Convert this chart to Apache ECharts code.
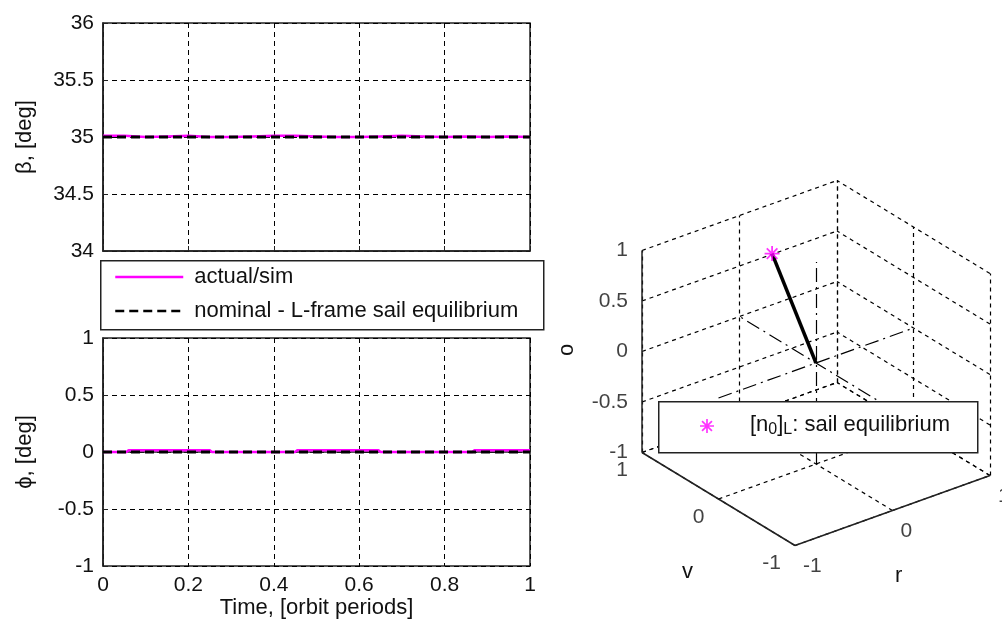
<!DOCTYPE html>
<html>
<head>
<meta charset="utf-8">
<script src="https://cdn.jsdelivr.net/npm/echarts@6/dist/echarts.min.js"></script>
<style>
  html, body { margin: 0; padding: 0; background: #fff; }
  #chart { width: 1002px; height: 626px; }
</style>
</head>
<body>
<div id="chart"></div>
<script>
// ---- Sail attitude over one orbit ----
// time, [orbit periods]
const timeBeta = [0, 0.05, 0.1, 0.15, 0.2, 0.25, 0.3, 0.35, 0.4, 0.45, 0.5, 0.55, 0.6, 0.65, 0.7, 0.75, 0.8, 0.85, 0.9, 0.95, 1];
// beta, [deg]
const betaActual = [35.01, 35.01, 35.0, 35.005, 35.01, 35.0, 35.0, 35.005, 35.01, 35.01, 35.005, 35.0, 35.0, 35.005, 35.01, 35.005, 35.0, 35.005, 35.0, 35.005, 35.0];
const betaNominal = [35, 35, 35, 35, 35, 35, 35, 35, 35, 35, 35, 35, 35, 35, 35, 35, 35, 35, 35, 35, 35];
// phi, [deg]
const timePhi = [0, 0.055, 0.06, 0.25, 0.255, 0.45, 0.455, 0.645, 0.65, 0.865, 0.87, 1];
const phiActual = [0, 0, 0.015, 0.015, 0, 0, 0.015, 0.015, 0, 0, 0.015, 0.015];
const phiNominal = [0, 0, 0, 0, 0, 0, 0, 0, 0, 0, 0, 0];

// ---- Sail normal in the L-frame (r, v, o) ----
const sailNormal = [0, 0.574, 0.819];
const rTicks = [-1, 0, 1];
const vTicks = [-1, 0, 1];
const oTicks = [-1, -0.5, 0, 0.5, 1];

const FONT = 'Liberation Sans, Arial, sans-serif';
const INK = '#111';
const MAGENTA = '#ff00ff';

// orthographic view of the 3-D box: screen offset per unit along r, v, o
const VIEW = { r: [0.975, 0.35], v: [-0.765, 0.465], o: [0, 1.01] };
function proj(r, v, o) {
  return [
    VIEW.r[0] * r + VIEW.v[0] * v + VIEW.o[0] * o,
    VIEW.r[1] * r + VIEW.v[1] * v + VIEW.o[1] * o
  ];
}
const rMin = rTicks[0], rMax = rTicks[rTicks.length - 1];
const vMin = vTicks[0], vMax = vTicks[vTicks.length - 1];
const oMin = oTicks[0], oMax = oTicks[oTicks.length - 1];

// dashed grid on the three back faces
const gridSegs = [];
rTicks.forEach(r => gridSegs.push([proj(r, vMax, oMin), proj(r, vMax, oMax)]));
oTicks.forEach(o => gridSegs.push([proj(rMin, vMax, o), proj(rMax, vMax, o)]));
vTicks.forEach(v => gridSegs.push([proj(rMax, v, oMin), proj(rMax, v, oMax)]));
oTicks.forEach(o => gridSegs.push([proj(rMax, vMin, o), proj(rMax, vMax, o)]));
rTicks.forEach(r => gridSegs.push([proj(r, vMin, oMin), proj(r, vMax, oMin)]));
vTicks.forEach(v => gridSegs.push([proj(rMin, v, oMin), proj(rMax, v, oMin)]));

// solid axis lines
const axisSegs = [
  [proj(rMin, vMax, oMin), proj(rMin, vMax, oMax)],
  [proj(rMin, vMin, oMin), proj(rMin, vMax, oMin)],
  [proj(rMin, vMin, oMin), proj(rMax, vMin, oMin)]
];
// L-frame unit axes through the origin
const frameSegs = [
  [proj(-1, 0, 0), proj(1, 0, 0)],
  [proj(0, -1, 0), proj(0, 1, 0)],
  [proj(0, 0, -1), proj(0, 0, 1)]
];
const normalTip = proj(sailNormal[0], sailNormal[1], sailNormal[2]);
const normalSeg = [[proj(0, 0, 0), normalTip]];

// asterisk marker
const STAR = 'path://M-1,-0.12L1,-0.12L1,0.12L-1,0.12Z' +
  'M0.12,-1L0.12,1L-0.12,1L-0.12,-1Z' +
  'M-0.622,-0.792L0.792,0.622L0.622,0.792L-0.792,-0.622Z' +
  'M-0.792,0.622L0.622,-0.792L0.792,-0.622L-0.622,0.792Z';

const toSegs = segs => segs.map(s => ({ coords: s }));
const pairs = (xs, ys) => xs.map((x, i) => [x, ys[i]]);

const chart = echarts.init(document.getElementById('chart'), null, { renderer: 'canvas' });

const tickLabel = { fontFamily: FONT, fontSize: 21, color: INK };
const splitDash = { show: true, lineStyle: { color: '#000', width: 1, type: [5, 4] } };

const option = {
  animation: false,
  backgroundColor: '#fff',
  grid: [
    { left: 103, top: 23, width: 427, height: 228, show: true, borderColor: '#222', borderWidth: 1.5, backgroundColor: '#fff' },
    { left: 103, top: 338, width: 427, height: 228, show: true, borderColor: '#222', borderWidth: 1.5, backgroundColor: '#fff' },
    { left: 560, top: 160, width: 442, height: 440, show: false }
  ],
  xAxis: [
    { gridIndex: 0, type: 'value', min: 0, max: 1, interval: 0.2,
      axisLine: { lineStyle: { color: '#222', width: 1.5 } },
      axisTick: { inside: true, length: 5, lineStyle: { color: '#222' } },
      axisLabel: { show: false }, splitLine: splitDash },
    { gridIndex: 1, type: 'value', min: 0, max: 1, interval: 0.2,
      axisLine: { lineStyle: { color: '#222', width: 1.5 } },
      axisTick: { inside: true, length: 5, lineStyle: { color: '#222' } },
      axisLabel: Object.assign({ margin: 9 }, tickLabel), splitLine: splitDash,
      name: 'Time, [orbit periods]', nameLocation: 'middle', nameGap: 29,
      nameTextStyle: { fontFamily: FONT, fontSize: 22, color: INK } },
    { gridIndex: 2, type: 'value', min: -2.56, max: 1.86, show: false }
  ],
  yAxis: [
    { gridIndex: 0, type: 'value', min: 34, max: 36, interval: 0.5,
      axisLine: { lineStyle: { color: '#222', width: 1.5 } },
      axisTick: { inside: true, length: 5, lineStyle: { color: '#222' } },
      axisLabel: Object.assign({ margin: 9 }, tickLabel), splitLine: splitDash,
      name: 'β, [deg]', nameLocation: 'middle', nameGap: 67, nameRotate: 90,
      nameTextStyle: { fontFamily: FONT, fontSize: 22, color: INK } },
    { gridIndex: 1, type: 'value', min: -1, max: 1, interval: 0.5,
      axisLine: { lineStyle: { color: '#222', width: 1.5 } },
      axisTick: { inside: true, length: 5, lineStyle: { color: '#222' } },
      axisLabel: Object.assign({ margin: 9 }, tickLabel), splitLine: splitDash,
      name: 'ϕ, [deg]', nameLocation: 'middle', nameGap: 67, nameRotate: 90,
      nameTextStyle: { fontFamily: FONT, fontSize: 22, color: INK } },
    { gridIndex: 2, type: 'value', min: -2.37, max: 2.03, show: false }
  ],
  legend: [
    { data: ['actual/sim', 'nominal - L-frame sail equilibrium'],
      orient: 'vertical', left: 114, top: 266, padding: 0,
      itemWidth: 68, itemHeight: 14, itemGap: 12,
      itemStyle: { opacity: 0 },
      lineStyle: { width: 2.5 },
      textStyle: { fontFamily: FONT, fontSize: 22, color: INK, lineHeight: 20, padding: [0, 0, 0, 6] },
      selectedMode: false, z: 6 },
    { data: ['sail'], left: 700, top: 414, padding: 0,
      itemWidth: 14, itemHeight: 14,
      formatter: () => '{b|[n}{s|0}{b|]}{s|L}{b|: sail equilibrium}',
      textStyle: { fontFamily: FONT, fontSize: 22, color: INK, padding: [0, 0, 0, 31],
        rich: {
          b: { fontFamily: FONT, fontSize: 22, color: INK, lineHeight: 24, verticalAlign: 'top' },
          s: { fontFamily: FONT, fontSize: 16, color: INK, lineHeight: 18, verticalAlign: 'bottom' }
        } },
      selectedMode: false, z: 6 }
  ],
  graphic: [
    { type: 'rect', left: 100, top: 260, z: 5,
      shape: { width: 443, height: 69 },
      style: { fill: '#fff', stroke: '#222', lineWidth: 1.5 } },
    { type: 'rect', left: 658, top: 401, z: 5,
      shape: { width: 319, height: 51 },
      style: { fill: '#fff', stroke: '#222', lineWidth: 1.5 } },
    { type: 'text', left: 682, top: 561, z: 5,
      style: { text: 'v', fontFamily: FONT, fontSize: 22, fill: INK } },
    { type: 'text', left: 895, top: 565, z: 5,
      style: { text: 'r', fontFamily: FONT, fontSize: 22, fill: INK } },
    { type: 'text', x: 567, y: 350, rotation: Math.PI / 2, z: 5,
      style: { text: 'o', fontFamily: FONT, fontSize: 22, fill: INK, align: 'center', verticalAlign: 'middle' } }
  ],
  series: [
    // beta
    { name: 'actual/sim', type: 'line', xAxisIndex: 0, yAxisIndex: 0, symbol: 'none',
      data: pairs(timeBeta, betaActual), lineStyle: { color: MAGENTA, width: 2.5 }, itemStyle: { color: MAGENTA }, z: 3 },
    { name: 'nominal - L-frame sail equilibrium', type: 'line', xAxisIndex: 0, yAxisIndex: 0, symbol: 'none',
      data: pairs(timeBeta, betaNominal), lineStyle: { color: '#000', width: 3, type: [9, 5] }, itemStyle: { color: '#000' }, z: 4 },
    // phi
    { name: 'actual/sim', type: 'line', xAxisIndex: 1, yAxisIndex: 1, symbol: 'none',
      data: pairs(timePhi, phiActual), lineStyle: { color: MAGENTA, width: 2.5 }, itemStyle: { color: MAGENTA }, z: 3 },
    { name: 'nominal - L-frame sail equilibrium', type: 'line', xAxisIndex: 1, yAxisIndex: 1, symbol: 'none',
      data: pairs(timePhi, phiNominal), lineStyle: { color: '#000', width: 3, type: [9, 5] }, itemStyle: { color: '#000' }, z: 4 },

    // 3-D box
    { type: 'lines', coordinateSystem: 'cartesian2d', xAxisIndex: 2, yAxisIndex: 2, silent: true,
      data: toSegs(gridSegs), lineStyle: { color: '#000', width: 1.2, type: [4, 4], opacity: 1 }, z: 2 },
    { type: 'lines', coordinateSystem: 'cartesian2d', xAxisIndex: 2, yAxisIndex: 2, silent: true,
      data: toSegs(axisSegs), lineStyle: { color: '#222', width: 1.5, opacity: 1 }, z: 2 },
    { type: 'lines', coordinateSystem: 'cartesian2d', xAxisIndex: 2, yAxisIndex: 2, silent: true,
      data: toSegs(frameSegs), lineStyle: { color: '#000', width: 1.2, type: [14, 5, 2, 5], opacity: 1 }, z: 2 },
    { type: 'lines', coordinateSystem: 'cartesian2d', xAxisIndex: 2, yAxisIndex: 2, silent: true,
      data: toSegs(normalSeg), lineStyle: { color: '#000', width: 3.5, opacity: 1 }, z: 3 },
    { name: 'sail', type: 'scatter', xAxisIndex: 2, yAxisIndex: 2, symbol: STAR, symbolSize: 15,
      data: [normalTip], itemStyle: { color: MAGENTA }, z: 4 },

    // 3-D tick labels
    { type: 'scatter', xAxisIndex: 2, yAxisIndex: 2, symbolSize: 0, silent: true,
      data: oTicks.map(o => ({ value: proj(rMin, vMax, o), name: String(o) })),
      label: Object.assign({ show: true, position: [-14, 0], align: 'right', verticalAlign: 'middle', formatter: p => p.name }, tickLabel) },
    { type: 'scatter', xAxisIndex: 2, yAxisIndex: 2, symbolSize: 0, silent: true,
      data: vTicks.map(v => ({ value: proj(rMin, v, oMin), name: String(v) })),
      label: Object.assign({ show: true, position: [-14, 18], align: 'right', verticalAlign: 'middle', formatter: p => p.name }, tickLabel) },
    { type: 'scatter', xAxisIndex: 2, yAxisIndex: 2, symbolSize: 0, silent: true,
      data: rTicks.map(r => ({ value: proj(r, vMin, oMin), name: String(r) })),
      label: Object.assign({ show: true, position: [8, 21], align: 'left', verticalAlign: 'middle', formatter: p => p.name }, tickLabel) }
  ]
};

chart.setOption(option);
</script>
</body>
</html>
